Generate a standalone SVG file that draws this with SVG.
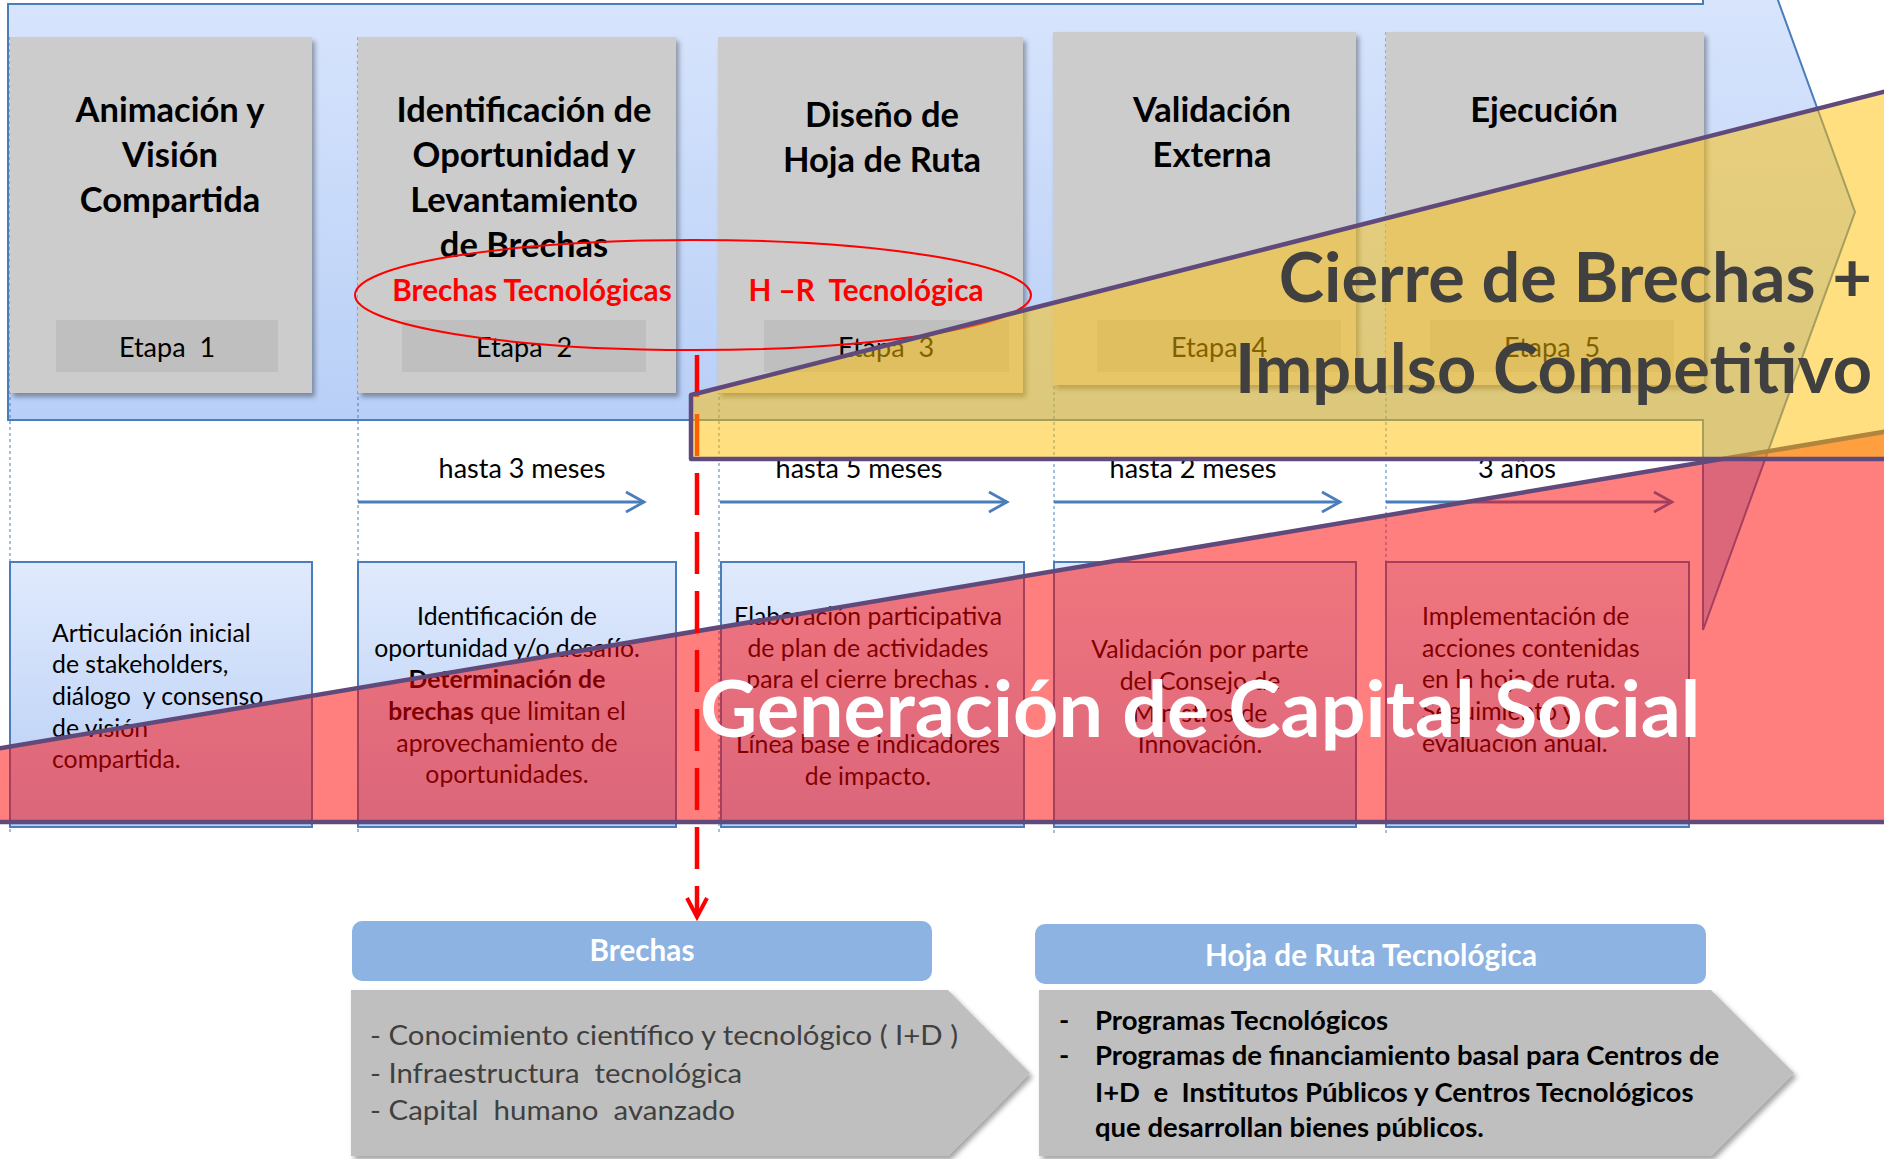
<svg xmlns="http://www.w3.org/2000/svg" width="1884" height="1159" viewBox="0 0 1884 1159">
<defs>
<linearGradient id="gBig" gradientUnits="userSpaceOnUse" x1="0" y1="4" x2="0" y2="420">
<stop offset="0" stop-color="#d7e4fc"/><stop offset="1" stop-color="#b8cff7"/>
</linearGradient>
<linearGradient id="gDesc" x1="0" y1="0" x2="0" y2="1">
<stop offset="0" stop-color="#e0eafc"/><stop offset="1" stop-color="#b6cdf6"/>
</linearGradient>
<filter id="sh" x="-5%" y="-5%" width="115%" height="115%">
<feDropShadow dx="3" dy="4" stdDeviation="2.5" flood-color="#000" flood-opacity="0.35"/>
</filter>
<marker id="blueHead" markerUnits="userSpaceOnUse" markerWidth="24" markerHeight="26" refX="20" refY="12" orient="auto">
<path d="M2,2 L20,12 L2,22" fill="none" stroke="#4a7ebb" stroke-width="2.8"/>
</marker>
<style>
.stage{fill:#cccccc;filter:url(#sh)}
.lab{fill:#bfbfbf}
.title{font-family:Lato,"Open Sans",sans-serif;font-weight:bold;font-size:34.5px;fill:#000;text-anchor:middle}
.etapa{font-family:Lato,"Open Sans",sans-serif;font-size:27px;fill:#000;text-anchor:middle;white-space:pre}
.redt{font-family:Lato,"Open Sans",sans-serif;font-weight:bold;font-size:29.7px;fill:#ff0000;text-anchor:middle}
.dur{font-family:Lato,"Open Sans",sans-serif;font-size:27px;fill:#000;text-anchor:middle}
.desc{fill:url(#gDesc);stroke:#4a7ebb;stroke-width:2}
.dt{font-family:Lato,"Open Sans",sans-serif;font-size:24.8px;fill:#000}
.mid{text-anchor:middle}
.b{font-weight:bold}
.guide{stroke:#4a7ebb;stroke-width:1;stroke-dasharray:3 3;fill:none}
.arr{stroke:#4a7ebb;stroke-width:2.8;fill:none;marker-end:url(#blueHead)}
.hdr{fill:#8db3e2}
.hdrt{font-family:Lato,"Open Sans",sans-serif;font-weight:bold;font-size:29.7px;fill:#fff;text-anchor:middle}
.chev{fill:#bfbfbf;filter:url(#sh)}
.big{font-family:Lato,"Open Sans",sans-serif;font-weight:bold}
</style>
</defs>
<rect width="1884" height="1159" fill="#fff"/>

<g id="big-arrow">
<polygon points="8,4 1703,4 1703,-206 1855,212 1703,630 1703,420 8,420" fill="url(#gBig)" stroke="#4a7ebb" stroke-width="2"/>
</g>

<g id="guides">
<line class="guide" x1="10" y1="37" x2="10" y2="835"/>
<line class="guide" x1="358" y1="37" x2="358" y2="835"/>
<line class="guide" x1="719" y1="37" x2="719" y2="835"/>
<line class="guide" x1="1054" y1="32" x2="1054" y2="835"/>
<line class="guide" x1="1386" y1="32" x2="1386" y2="835"/>
</g>

<g id="stage1">
<rect class="stage" x="10" y="37" width="302" height="356"/>
<rect class="lab" x="56" y="320" width="222" height="52"/>
<text class="title" x="170" y="122">Animación y</text>
<text class="title" x="170" y="167">Visión</text>
<text class="title" x="170" y="212">Compartida</text>
<text class="etapa" x="167" y="357" xml:space="preserve">Etapa  1</text>
</g>
<g id="stage2">
<rect class="stage" x="358" y="37" width="318" height="356"/>
<rect class="lab" x="402" y="320" width="244" height="52"/>
<text class="title" x="524" y="122">Identificación de</text>
<text class="title" x="524" y="167">Oportunidad y</text>
<text class="title" x="524" y="212">Levantamiento</text>
<text class="title" x="524" y="257">de Brechas</text>
<text class="etapa" x="524" y="357" xml:space="preserve">Etapa  2</text>
</g>
<g id="stage3">
<rect class="stage" x="718" y="37" width="305" height="356"/>
<rect class="lab" x="764" y="320" width="245" height="52"/>
<text class="title" x="882" y="127">Diseño de</text>
<text class="title" x="882" y="172">Hoja de Ruta</text>
<text class="etapa" x="886" y="357" xml:space="preserve">Etapa  3</text>
</g>
<g id="stage4">
<rect class="stage" x="1053" y="32" width="303" height="353"/>
<rect class="lab" x="1097" y="320" width="244" height="52"/>
<text class="title" x="1212" y="122">Validación</text>
<text class="title" x="1212" y="167">Externa</text>
<text class="etapa" x="1219" y="357" xml:space="preserve">Etapa  4</text>
</g>
<g id="stage5">
<rect class="stage" x="1386" y="32" width="318" height="353"/>
<rect class="lab" x="1430" y="320" width="244" height="52"/>
<text class="title" x="1544" y="122">Ejecución</text>
<text class="etapa" x="1552" y="357" xml:space="preserve">Etapa  5</text>
</g>

<g id="highlight">
<ellipse cx="693" cy="295" rx="338" ry="55" fill="none" stroke="#ff0000" stroke-width="2"/>
<text class="redt" x="532" y="301">Brechas Tecnológicas</text>
<text class="redt" x="866" y="301" xml:space="preserve">H –R  Tecnológica</text>
</g>

<g id="durations">
<text class="dur" x="522" y="478">hasta 3 meses</text>
<text class="dur" x="859" y="478">hasta 5 meses</text>
<text class="dur" x="1193" y="478">hasta 2 meses</text>
<text class="dur" x="1517" y="478">3 años</text>
</g>

<g id="desc1">
<rect class="desc" x="10" y="562" width="302" height="265"/>
<text class="dt" x="52" y="642">Articulación inicial</text>
<text class="dt" x="52" y="673">de stakeholders,</text>
<text class="dt" x="52" y="705" xml:space="preserve">diálogo  y consenso</text>
<text class="dt" x="52" y="737">de visión</text>
<text class="dt" x="52" y="768">compartida.</text>
</g>
<g id="desc2">
<rect class="desc" x="358" y="562" width="318" height="265"/>
<text class="dt mid" x="507" y="625">Identificación de</text>
<text class="dt mid" x="507" y="657">oportunidad y/o desafío.</text>
<text class="dt mid b" x="507" y="688">Determinación de</text>
<text class="dt mid" x="507" y="720"><tspan class="b">brechas</tspan> que limitan el</text>
<text class="dt mid" x="507" y="752">aprovechamiento de</text>
<text class="dt mid" x="507" y="783">oportunidades.</text>
</g>
<g id="desc3">
<rect class="desc" x="721" y="562" width="303" height="265"/>
<text class="dt mid" x="868" y="625">Elaboración participativa</text>
<text class="dt mid" x="868" y="657">de plan de actividades</text>
<text class="dt mid" x="868" y="688">para el cierre brechas .</text>
<text class="dt mid" x="868" y="753">Línea base e indicadores</text>
<text class="dt mid" x="868" y="785">de impacto.</text>
</g>
<g id="desc4">
<rect class="desc" x="1054" y="562" width="302" height="265"/>
<text class="dt mid" x="1200" y="658">Validación por parte</text>
<text class="dt mid" x="1200" y="690">del Consejo de</text>
<text class="dt mid" x="1200" y="722">Ministros de</text>
<text class="dt mid" x="1200" y="753">Innovación.</text>
</g>
<g id="desc5">
<rect class="desc" x="1386" y="562" width="303" height="265"/>
<text class="dt" x="1422" y="625">Implementación de</text>
<text class="dt" x="1422" y="657">acciones contenidas</text>
<text class="dt" x="1422" y="688">en la hoja de ruta.</text>
<text class="dt" x="1422" y="720">Seguimiento y</text>
<text class="dt" x="1422" y="752">evaluación anual.</text>
</g>

<g id="connectors">
<line class="arr" x1="358" y1="502" x2="644" y2="502"/>
<line class="arr" x1="720" y1="502" x2="1007" y2="502"/>
<line class="arr" x1="1054" y1="502" x2="1340" y2="502"/>
<line class="arr" x1="1386" y1="502" x2="1672" y2="502"/>
</g>

<g id="social-band">
<polygon points="-5,749 1895,430 1895,822 -5,822" fill="#ff0000" fill-opacity="0.5"/>
<polyline points="-5,749 1895,430" fill="none" stroke="#604a7b" stroke-width="4.5"/>
<line x1="-5" y1="822" x2="1895" y2="822" stroke="#604a7b" stroke-width="4.5"/>
</g>

<g id="red-connector">
<line x1="697" y1="355" x2="697" y2="914" stroke="#ff0000" stroke-width="4.5" stroke-dasharray="42 17"/>
<polyline points="687,898 697,917 707,898" fill="none" stroke="#ff0000" stroke-width="4"/>
</g>

<g id="competitive-band">
<polygon points="691,395 1895,89 1895,459 691,459" fill="#ffc000" fill-opacity="0.5"/>
<polyline points="1895,89 691,395 691,459 1895,459" fill="none" stroke="#604a7b" stroke-width="4.5" stroke-linejoin="round"/>
</g>

<g id="band-titles">
<text class="big" x="1872" y="302" font-size="68.5" fill="#404040" text-anchor="end">Cierre de Brechas +</text>
<text class="big" x="1872" y="393" font-size="68.5" fill="#404040" text-anchor="end">Impulso Competitivo</text>
<text class="big" x="700" y="737" font-size="79" fill="#ffffff">Generación de Capital Social</text>
</g>

<g id="brechas">
<rect class="hdr" x="352" y="921" width="580" height="60" rx="10"/>
<text class="hdrt" x="642" y="961">Brechas</text>
<polygon class="chev" points="351,990 948,990 1030,1073 948,1156 351,1156"/>
<text font-family="Lato,'Open Sans',sans-serif" font-size="27" fill="#404040" xml:space="preserve"><tspan x="370" y="1045" textLength="588" lengthAdjust="spacingAndGlyphs">- Conocimiento científico y tecnológico ( I+D )</tspan><tspan x="370" y="1083" textLength="372" lengthAdjust="spacingAndGlyphs">- Infraestructura  tecnológica</tspan><tspan x="370" y="1120" textLength="365" lengthAdjust="spacingAndGlyphs">- Capital  humano  avanzado</tspan></text>
</g>

<g id="hoja-ruta">
<rect class="hdr" x="1035" y="924" width="671" height="60" rx="10"/>
<text class="hdrt" x="1371" y="966">Hoja de Ruta Tecnológica</text>
<polygon class="chev" points="1039,990 1711,990 1794,1073 1711,1156 1039,1156"/>
<text font-family="Lato,'Open Sans',sans-serif" font-size="27.5" font-weight="bold" fill="#000" xml:space="preserve"><tspan x="1059" y="1030">-</tspan><tspan x="1059" y="1065">-</tspan><tspan x="1095" y="1030">Programas Tecnológicos</tspan><tspan x="1095" y="1065">Programas de financiamiento basal para Centros de</tspan><tspan x="1095" y="1102">I+D  e  Institutos Públicos y Centros Tecnológicos</tspan><tspan x="1095" y="1137">que desarrollan bienes públicos.</tspan></text>
</g>
</svg>
